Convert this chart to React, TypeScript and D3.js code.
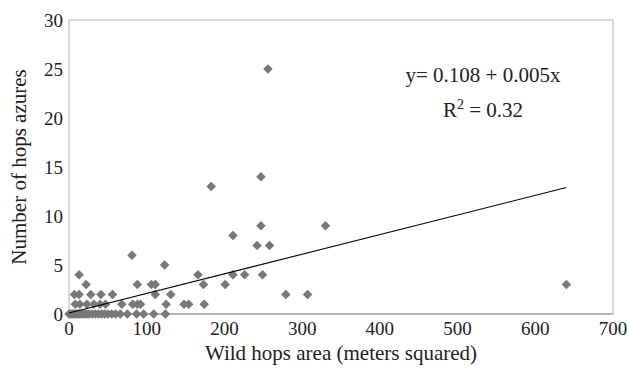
import React from 'react';
import * as d3 from 'd3';

// wild hops area (m²) and number of hops azures per site
const areaValues: number[] = [
  0, 2, 4, 6, 8, 10, 12, 14, 17, 20, 23, 26, 30, 34, 38, 42, 46, 50, 55, 60, 66, 75, 87, 96, 109, 124,
  8, 14, 23, 32, 40, 47, 68, 82, 88, 92, 125, 148, 154, 174,
  7, 13, 28, 41, 56, 111, 131, 279, 307,
  22, 88, 106, 111, 173, 201, 640,
  13, 166, 211, 226, 249,
  123, 81, 242, 258, 211, 247, 330, 183, 247, 256,
];
const azureCounts: number[] = [
  0, 0, 0, 0, 0, 0, 0, 0, 0, 0, 0, 0, 0, 0, 0, 0, 0, 0, 0, 0, 0, 0, 0, 0, 0, 0,
  1, 1, 1, 1, 1, 1, 1, 1, 1, 1, 1, 1, 1, 1,
  2, 2, 2, 2, 2, 2, 2, 2, 2,
  3, 3, 3, 3, 3, 3, 3,
  4, 4, 4, 4, 4,
  5, 6, 7, 7, 8, 9, 9, 13, 14, 25,
];

const xTicks = [0, 100, 200, 300, 400, 500, 600, 700];
const yTicks = [0, 5, 10, 15, 20, 25, 30];

// trend line as drawn in the figure
const trendX = [0, 640];
const trendY = [0.1, 12.9];

const equationText = 'y= 0.108 + 0.005x';

const width = 627, height = 369;
const margin = { top: 20, right: 14, bottom: 55, left: 69 };
const font = 'Liberation Serif';
const textColor = '#222';

const x = d3.scaleLinear().domain([0, 700]).range([margin.left, width - margin.right]);
const y = d3.scaleLinear().domain([0, 30]).range([height - margin.bottom, margin.top]);
const diamond = d3.symbol().type(d3.symbolDiamond2).size(58)() as string;

const App = () => (
  <svg width={width} height={height} style={{ position: 'absolute', left: 0, top: 0, fontFamily: font }}>
    {/* plot frame */}
    <rect x={x(0)} y={y(30)} width={x(700) - x(0)} height={y(0) - y(30)}
      fill="none" stroke="#b3b3b3" strokeWidth={1} />
    <line x1={x(0)} x2={x(700)} y1={y(0)} y2={y(0)} stroke="#b3b3b3" strokeWidth={2} />

    {/* tick labels */}
    {yTicks.map(t => (
      <text key={'y' + t} x={x(0) - 6} y={y(t)} dy="0.35em" textAnchor="end"
        fontSize={19} fill={textColor} style={{ fontFamily: font }}>{t}</text>
    ))}
    {xTicks.map(t => (
      <text key={'x' + t} x={x(t)} y={y(0) + 21} textAnchor="middle"
        fontSize={19} fill={textColor} style={{ fontFamily: font }}>{t}</text>
    ))}

    {/* points */}
    {areaValues.map((a, i) => (
      <path key={i} d={diamond} transform={`translate(${x(a)},${y(azureCounts[i])})`} fill="#787878" />
    ))}

    {/* trend line */}
    <line x1={x(trendX[0])} y1={y(trendY[0])} x2={x(trendX[1])} y2={y(trendY[1])}
      stroke="#000" strokeWidth={1.1} />

    {/* equation */}
    <text x={483} y={82} textAnchor="middle" fontSize={21} fill={textColor} style={{ fontFamily: font }}>
      {equationText}
    </text>
    <text x={483} y={117} textAnchor="middle" fontSize={21} fill={textColor} style={{ fontFamily: font }}>
      <tspan>R</tspan>
      <tspan dy={-8} fontSize={14}>2</tspan>
      <tspan dy={8}> = 0.32</tspan>
    </text>

    {/* axis titles */}
    <text x={(x(0) + x(700)) / 2} y={360} textAnchor="middle" fontSize={21} fill={textColor}
      style={{ fontFamily: font }}>
      Wild hops area (meters squared)
    </text>
    <text transform={`translate(26,${(y(0) + y(30)) / 2}) rotate(-90)`} textAnchor="middle"
      fontSize={21} fill={textColor} style={{ fontFamily: font }}>
      Number of hops azures
    </text>
  </svg>
);

export default App;
